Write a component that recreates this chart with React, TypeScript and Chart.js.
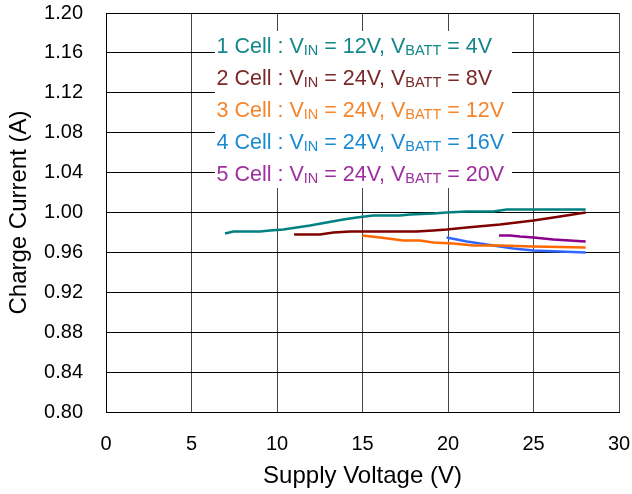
import React, { useEffect, useRef } from "react";
import { Chart, registerables } from "chart.js";

Chart.register(...registerables);

// ---- data ----
const cell1X = [6.96, 7.45, 9.0, 9.6, 10.37, 11.15, 11.93, 12.9, 13.88, 14.66, 15.63, 17.19, 17.78, 19.14, 19.92, 21.1, 22.65, 23.43, 28.05];
const cell1Y = [0.979, 0.981, 0.981, 0.982, 0.983, 0.985, 0.987, 0.99, 0.993, 0.995, 0.997, 0.997, 0.998, 0.999, 1.0, 1.001, 1.001, 1.003, 1.003];

const cell2X = [11.0, 12.5, 13.3, 14.27, 18.17, 19.14, 19.92, 21.1, 23.04, 25.0, 26.55, 28.05];
const cell2Y = [0.978, 0.978, 0.98, 0.981, 0.981, 0.982, 0.983, 0.985, 0.988, 0.992, 0.996, 1.0];

const cell3X = [14.99, 16.02, 17.39, 18.36, 19.14, 20.31, 21.48, 23.0, 25.0, 28.05];
const cell3Y = [0.977, 0.975, 0.972, 0.972, 0.97, 0.969, 0.967, 0.967, 0.966, 0.965];

const cell4X = [19.92, 21.1, 22.65, 23.82, 25.0, 26.55, 28.05];
const cell4Y = [0.975, 0.971, 0.967, 0.964, 0.962, 0.961, 0.96];

const cell5X = [22.98, 23.63, 24.2, 25.0, 26.16, 28.05];
const cell5Y = [0.977, 0.977, 0.976, 0.975, 0.973, 0.971];

const xTickValues = [0, 5, 10, 15, 20, 25, 30];
const yTickValues = [0.8, 0.84, 0.88, 0.92, 0.96, 1.0, 1.04, 1.08, 1.12, 1.16, 1.2];

const legendCells = ["1", "2", "3", "4", "5"];
const legendVin = ["12", "24", "24", "24", "24"];
const legendVbatt = ["4", "8", "12", "16", "20"];

const lineColors = ["#008080", "#800000", "#ff6a00", "#3366ff", "#8b008b"];
const textColors = ["#14878a", "#7a2828", "#f5852a", "#1a8ad2", "#9e2f9e"];

const FONT = "'Liberation Sans', Arial, sans-serif";

const seriesX = [cell1X, cell2X, cell3X, cell4X, cell5X];
const seriesY = [cell1Y, cell2Y, cell3Y, cell4Y, cell5Y];

const legendPlugin = {
  id: "subLegend",
  beforeDatasetsDraw(chart: any) {
    const { ctx, chartArea } = chart;
    ctx.save();
    const bx = chartArea.left + 109;
    const by = chartArea.top + 18;
    ctx.fillStyle = "#ffffff";
    ctx.fillRect(bx, by, 297, 157);
    const mainFont = `21.5px ${FONT}`;
    const subFont = `14.5px ${FONT}`;
    ctx.textBaseline = "alphabetic";
    ctx.textAlign = "left";
    legendCells.forEach((n, i) => {
      const baseY = chartArea.top + 40 + i * 31.9;
      let x = bx + 1.5;
      const parts: [string, boolean][] = [
        [`${n} Cell : V`, false],
        ["IN", true],
        [` = ${legendVin[i]}V, V`, false],
        ["BATT", true],
        [` = ${legendVbatt[i]}V`, false],
      ];
      ctx.fillStyle = textColors[i];
      parts.forEach(([t, sub]) => {
        ctx.font = sub ? subFont : mainFont;
        ctx.fillText(t, x, baseY + (sub ? 2.4 : 0));
        x += ctx.measureText(t).width;
      });
    });
    ctx.restore();
  },
};

export default function App() {
  const ref = useRef<HTMLCanvasElement | null>(null);

  useEffect(() => {
    if (!ref.current) return;
    const datasets = seriesX.map((xs, i) => ({
      label: `${legendCells[i]} Cell`,
      data: xs.map((x, j) => ({ x, y: seriesY[i][j] })),
      borderColor: lineColors[i],
      backgroundColor: lineColors[i],
      borderWidth: 2.5,
      pointRadius: 0,
      showLine: true,
      fill: false,
      tension: 0,
    }));
    const chart = new Chart(ref.current, {
      type: "scatter",
      data: { datasets },
      plugins: [legendPlugin],
      options: {
        animation: false,
        responsive: false,
        devicePixelRatio: 1,
        layout: { padding: { top: 13, right: 13, left: 0, bottom: 0 } },
        plugins: { legend: { display: false }, tooltip: { enabled: false } },
        scales: {
          x: {
            type: "linear",
            min: 0,
            max: 30,
            afterBuildTicks: (s: any) => {
              s.ticks = xTickValues.map((v) => ({ value: v }));
            },
            afterFit: (s: any) => {
              s.height = 82;
              s.paddingLeft = 0;
              s.paddingRight = 0;
              s.paddingTop = 0;
              s.paddingBottom = 0;
            },
            grid: { color: "#444", lineWidth: 1, drawTicks: false },
            border: { display: true, color: "#000", width: 1 },
            ticks: {
              color: "#000",
              font: { family: FONT, size: 20 },
              padding: 20,
              maxRotation: 0,
              callback: (v: any) => String(v),
            },
            title: {
              display: true,
              text: "Supply Voltage (V)",
              color: "#000",
              font: { family: FONT, size: 24 },
              padding: { top: 0, bottom: 3 },
            },
          },
          y: {
            type: "linear",
            min: 0.8,
            max: 1.2,
            afterBuildTicks: (s: any) => {
              s.ticks = yTickValues.map((v) => ({ value: v }));
            },
            afterFit: (s: any) => {
              s.width = 106;
              s.paddingLeft = 0;
              s.paddingRight = 0;
              s.paddingTop = 0;
              s.paddingBottom = 0;
            },
            grid: { color: "#000", lineWidth: 1, drawTicks: false },
            border: { display: true, color: "#000", width: 1 },
            ticks: {
              color: "#000",
              font: { family: FONT, size: 20 },
              padding: 23,
              callback: (v: any) => Number(v).toFixed(2),
            },
            title: {
              display: true,
              text: "Charge Current (A)",
              color: "#000",
              font: { family: FONT, size: 24 },
              padding: { top: 5, bottom: 0 },
            },
          },
        },
      },
    } as any);
    return () => chart.destroy();
  }, []);

  return (
    <div style={{ position: "absolute", left: 0, top: 0, width: 632, height: 494, background: "#fff" }}>
      <canvas ref={ref} width={632} height={494} style={{ width: 632, height: 494 }} />
    </div>
  );
}
